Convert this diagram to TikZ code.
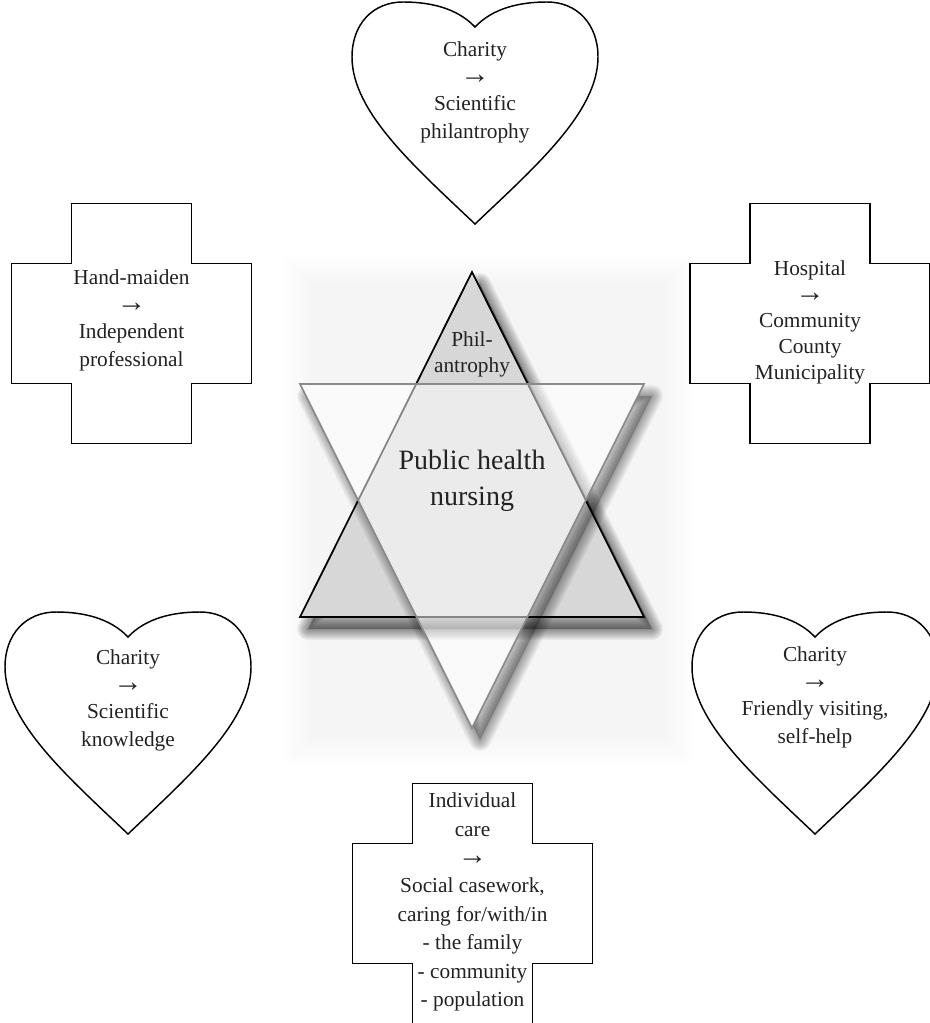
\documentclass[tikz,border=0pt]{standalone}
\usepackage{fontspec}
\setmainfont{Liberation Serif}
\definecolor{upfill}{HTML}{D7D7D7}
\definecolor{downline}{HTML}{8A8A8A}
\definecolor{txt}{HTML}{222222}
\newcommand{\myarrow}{{\fontsize{22pt}{20pt}\selectfont →}}
\tikzset{
  outline/.style={draw=black, line width=1.1pt, line join=miter, fill=white},
  lbl/.style={align=center, text=txt, inner sep=0pt,
    font=\fontsize{16pt}{20.5pt}\selectfont},
  biglbl/.style={align=center, text=txt, inner sep=0pt,
    font=\fontsize{21pt}{27pt}\selectfont},
  shadowstroke/.style={draw=black, draw opacity=#1, line join=round},
  shadowfill/.style={fill=black, fill opacity=#1},
  heartshape/.pic={
    \draw[outline] (0,25) .. controls (18,6) and (45,0) .. (72,0)
      .. controls (102,0) and (123,22) .. (123,55)
      .. controls (123,110) and (60,165) .. (0,222)
      .. controls (-60,165) and (-123,110) .. (-123,55)
      .. controls (-123,22) and (-102,0) .. (-72,0)
      .. controls (-45,0) and (-18,6) .. (0,25) -- cycle;
  },
  crossshape/.pic={
    \draw[outline] (-60,-120) -- (60,-120) -- (60,-60) -- (120,-60) -- (120,60)
      -- (60,60) -- (60,120) -- (-60,120) -- (-60,60) -- (-120,60)
      -- (-120,-60) -- (-60,-60) -- cycle;
  }
}
\begin{document}
\begin{tikzpicture}[x=0.75pt,y=-0.75pt]
\useasboundingbox (0,0) rectangle (930,1023);
\clip (0,0) rectangle (930,1023);
\fill[white] (0,0) rectangle (930,1023);
% soft grey backdrop behind the star
\foreach \k in {0,...,9}
  \fill[black, opacity=0.0045] (284+\k*3,256+\k*3) rectangle (692-\k*3,764-\k*3);

% blurred shadow of the upward triangle
\path[shadowfill=0.3, shift={(8,12)}] (472,272) -- (644,617) -- (300,617) -- cycle;
\foreach \w in {2,4,...,22}
  \path[shadowstroke=0.045, line width=\w*0.75pt, shift={(8,12)}]
    (472,272) -- (644,617) -- (300,617) -- cycle;
% upward triangle
\draw[fill=upfill, draw=black, line width=1.3pt, line join=miter]
  (472,272) -- (644,617) -- (300,617) -- cycle;

% blurred shadow of the downward triangle, only outside it
\begin{scope}[even odd rule]
  \clip (0,0) rectangle (930,1023) (300,384) -- (644,384) -- (472,728) -- cycle;
  \path[shadowfill=0.22, shift={(8,12)}] (300,384) -- (644,384) -- (472,728) -- cycle;
  \foreach \w in {2,4,...,22}
    \path[shadowstroke=0.035, line width=\w*0.75pt, shift={(8,12)}]
      (300,384) -- (644,384) -- (472,728) -- cycle;
\end{scope}

% downward triangle
\draw[fill=white, fill opacity=0.52, draw=downline, line width=1.3pt, line join=miter]
  (300,384) -- (644,384) -- (472,728) -- cycle;

\node[lbl, font=\fontsize{16pt}{19.5pt}\selectfont] (phil) at (472,354) {Phil-\\antrophy};
\node[biglbl] (phn) at (472,481) {Public health\\nursing};

% hearts
\pic at (475,2) {heartshape};
\pic at (128,612) {heartshape};
\pic at (815,612) {heartshape};
% crosses
\pic at (131.5,323.5) {crossshape};
\pic at (810,323.5) {crossshape};
\pic at (472.5,903.5) {crossshape};

\node[lbl] (topheart) at (475,92) {Charity\\\myarrow\\Scientific\\philantrophy};
\node[lbl] (leftheart) at (128,700) {Charity\\\myarrow\\Scientific\\knowledge};
\node[lbl] (rightheart) at (815,697) {Charity\\\myarrow\\Friendly visiting,\\self-help};
\node[lbl] (leftcross) at (131.5,320) {Hand-maiden\\\myarrow\\Independent\\professional};
\node[lbl, font=\fontsize{16pt}{19.5pt}\selectfont] (rightcross) at (810,322) {Hospital\\\myarrow\\Community\\County\\Municipality};
\node[lbl, font=\fontsize{16pt}{21.3pt}\selectfont] (bottomcross) at (472.5,902) {Individual\\care\\\myarrow\\Social casework,\\caring for/with/in\\- the family\\- community\\- population};
\end{tikzpicture}
\end{document}
